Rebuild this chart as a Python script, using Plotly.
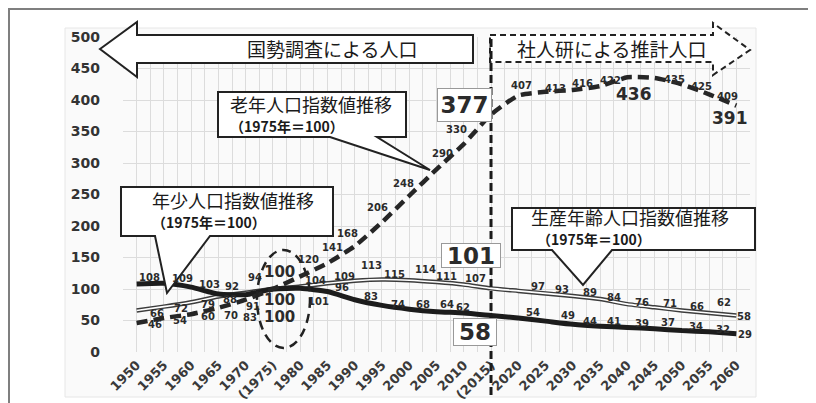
import plotly.graph_objects as go

# ---------------- data ----------------
years = [1950, 1955, 1960, 1965, 1970, 1975, 1980, 1985, 1990, 1995, 2000, 2005,
         2010, 2015, 2020, 2025, 2030, 2035, 2040, 2045, 2050, 2055, 2060]
tick_labels = ["1950", "1955", "1960", "1965", "1970", "(1975)", "1980", "1985", "1990",
               "1995", "2000", "2005", "2010", "(2015)", "2020", "2025", "2030", "2035",
               "2040", "2045", "2050", "2055", "2060"]
youth = [108, 109, 103, 92, 91, 100, 101, 96, 83, 74, 68, 64, 62, 58,
         54, 49, 44, 41, 39, 37, 34, 32, 29]
working = [66, 72, 79, 88, 94, 100, 104, 109, 113, 115, 114, 111, 107, 101,
           97, 93, 89, 84, 76, 71, 66, 62, 58]
elderly = [46, 54, 60, 70, 83, 100, 120, 141, 168, 206, 248, 290, 330, 377,
           407, 413, 416, 422, 436, 435, 425, 409, 391]

# label offsets in pixels (dx right, dy down) relative to each point
youth_off = [(13, -6), (19, -5), (18, -3), (14, -8), (7, 12), (7, 11), (18, 13), (15, -4),
             (16, -3), (16, -1), (14, -5), (10, -7), (-1, -5), (-16, 16.5), (15, -5), (22, -6),
             (17, -3), (14, -5), (15, -4), (13, -6), (14, -4), (14, -2), (9, 1)]
working_off = [(20, 3), (17, 2), (17, 2), (12, 3), (9, -15), (7, 28), (15, -6), (17, -7),
               (17, -15), (13, -5), (16, -11), (10, -6), (12, -6), (-20, -33), (20, -4), (16, -4),
               (17, -3), (14, -2), (15, -2), (15, -4), (15, -4), (15, -10), (8, 1)]
elderly_off = [(18, 1), (16, 3), (17, 2), (13, 8), (4, 18), (7, -17), (8, -17), (5, -16),
               (-7, -13), (-4, -15), (-6, -12), (6, -16), (-7, -15), (-26.5, -9.5), (3, -10),
               (10, -3), (10, -6), (10, -6), (7, 17), (20, 2), (20, 2), (18, 2), (-6, 12)]

# ---------------- geometry helpers ----------------
OFF = 8                      # page body margin
W, H = 816 - OFF, 403 - OFF
L, R, T, B = 123 - OFF, 66, 37 - OFF, 51
XR = [1947.5, 2062.5]
YR = [0, 500]


def px(sx):
    return (sx - OFF - L) / (W - L - R)


def py(sy):
    return (H - B - (sy - OFF)) / (H - T - B)


def path(points):
    return "M " + " L ".join(f"{px(x):.5f},{py(y):.5f}" for x, y in points) + " Z"


fig = go.Figure()

smooth = 0.5
fig.add_trace(go.Scatter(x=years, y=working, mode="lines", line=dict(color="#3c3c3c", width=4.5,
                                                                      shape="spline", smoothing=smooth),
                         hoverinfo="skip", showlegend=False))
fig.add_trace(go.Scatter(x=years, y=working, mode="lines", line=dict(color="#ffffff", width=1.6,
                                                                      shape="spline", smoothing=smooth),
                         hoverinfo="skip", showlegend=False))
fig.add_trace(go.Scatter(x=years, y=youth, mode="lines", line=dict(color="#1c1c1c", width=5,
                                                                    shape="spline", smoothing=smooth),
                         showlegend=False))
fig.add_trace(go.Scatter(x=years, y=elderly, mode="lines", line=dict(color="#262626", width=4.5,
                                                                      dash="11px,6px", shape="spline",
                                                                      smoothing=smooth),
                         showlegend=False))

ann = []
NUMFONT = "DejaVu Sans"
for series, offs, name in [(youth, youth_off, "y"), (working, working_off, "w"), (elderly, elderly_off, "e")]:
    for i, (yr, v) in enumerate(zip(years, series)):
        dx, dy = offs[i]
        size = 10
        extra = {}
        if i == 5:
            size = 15
        if i == 13:
            size = 23
            w_box, h_box = {"y": (44, 28), "w": (60, 25), "e": (55, 34)}[name]
            extra = dict(width=w_box - 4, height=h_box - 4, bordercolor="#999999", borderwidth=1,
                         borderpad=1, bgcolor="white")
        if name == "e" and i in (18, 22):
            size = 17
        ann.append(dict(x=yr, y=v, xref="x", yref="y", text=str(v), showarrow=False,
                        xshift=dx, yshift=-dy, xanchor="center", yanchor="middle",
                        font=dict(family=NUMFONT, size=size, color="#2b2b2b", weight="bold"),
                        **extra))

CJK = "Noto Sans CJK JP"


def txt(sx, sy, s, size, bold=False):
    return dict(x=px(sx), y=py(sy), xref="paper", yref="paper", text=(f"<b>{s}</b>" if bold else s),
                showarrow=False, xanchor="center", yanchor="middle",
                font=dict(family=CJK, size=size, color="#1a1a1a"))


ann += [
    txt(332, 49, "国勢調査による人口", 19),
    txt(611, 49, "社人研による推計人口", 19),
    txt(311, 104, "老年人口指数値推移", 18),
    txt(287, 126, "（1975年＝100）", 14, True),
    txt(233, 200, "年少人口指数値推移", 18),
    txt(209, 222, "（1975年＝100）", 14, True),
    txt(630, 217, "生産年齢人口指数値推移", 18),
    txt(594, 239, "（1975年＝100）", 14, True),
]

line_dark = dict(color="#222222", width=2)
x2015 = px(OFF + L + (2015 - XR[0]) / (XR[1] - XR[0]) * (W - L - R))
shapes = [
    # outer frame and inner light area
    dict(type="rect", xref="paper", yref="paper", x0=px(9), y0=py(420), x1=px(812), y1=py(9),
         line=dict(color="#7f7f7f", width=2), layer="below"),
    dict(type="rect", xref="paper", yref="paper", x0=px(65), y0=py(397), x1=px(756), y1=py(28),
         line=dict(color="#e6e6e6", width=1), fillcolor="#fafafa", layer="below"),
    # census arrow (left)
    dict(type="path", xref="paper", yref="paper",
         path=path([(100, 49), (137, 22), (137, 35), (473, 35), (473, 63), (137, 63), (137, 77)]),
         fillcolor="white", line=line_dark),
    # projection arrow (right, dashed)
    dict(type="path", xref="paper", yref="paper",
         path=path([(490, 35), (713, 35), (713, 23), (750, 50), (713, 75), (713, 62), (490, 62)]),
         fillcolor="white", line=dict(color="#222222", width=2, dash="6px,4px")),
    # elderly callout
    dict(type="path", xref="paper", yref="paper",
         path=path([(218, 92), (406, 92), (406, 137), (377, 137), (430, 170), (330, 137), (218, 137)]),
         fillcolor="white", line=line_dark),
    # youth callout
    dict(type="path", xref="paper", yref="paper",
         path=path([(121, 187), (333, 187), (333, 236), (210, 236), (167, 293), (155, 236), (121, 236)]),
         fillcolor="white", line=line_dark),
    # working-age callout
    dict(type="path", xref="paper", yref="paper",
         path=path([(512, 208), (755, 208), (755, 250), (612, 250), (583, 285), (552, 250), (512, 250)]),
         fillcolor="white", line=line_dark),
    # dashed ellipse around 1975
    dict(type="circle", xref="paper", yref="paper", x0=px(257), x1=px(310), y0=py(348), y1=py(250),
         line=dict(color="#222222", width=2.5, dash="9px,6px")),
    # vertical dashed line at 2015
    dict(type="line", xref="paper", yref="paper", x0=x2015, x1=x2015, y0=py(395), y1=py(38),
         line=dict(color="#1a1a1a", width=3, dash="8px,4px")),
]

fig.update_layout(
    width=W, height=H, margin=dict(l=L, r=R, t=T, b=B, autoexpand=False),
    paper_bgcolor="white", plot_bgcolor="white",
    annotations=ann, shapes=shapes, showlegend=False,
    xaxis=dict(range=XR, tickmode="array", tickvals=years, ticktext=tick_labels, tickangle=-45,
               showgrid=True, gridcolor="#dcdcdc", gridwidth=1, zeroline=False, showline=False,
               ticks="", ticklabelstandoff=2, automargin=False,
               tickfont=dict(family=NUMFONT, size=13, color="#3a3a3a", weight="bold"),
               minor=dict(tickmode="array", tickvals=[y - 2.5 for y in years] + [years[-1] + 2.5],
                          showgrid=True, gridcolor="#dcdcdc", gridwidth=1)),
    yaxis=dict(range=YR, tickmode="linear", tick0=0, dtick=50, showgrid=True, gridcolor="#dcdcdc",
               zeroline=False, showline=False, ticks="", ticklabelstandoff=22, automargin=False,
               tickfont=dict(family=NUMFONT, size=14, color="#333333", weight="bold")),
)

fig.write_html("out.html")
